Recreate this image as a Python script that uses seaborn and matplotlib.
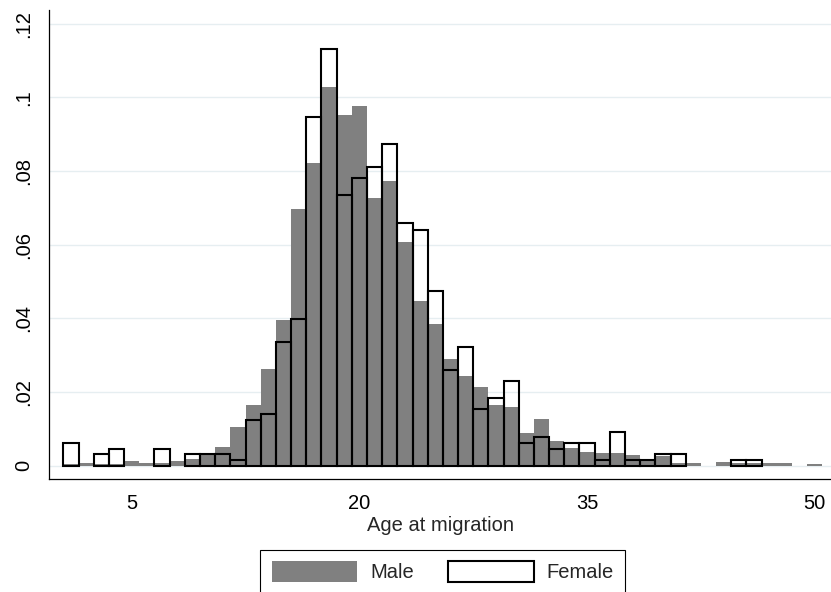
import matplotlib
matplotlib.use("Agg")
import matplotlib.pyplot as plt
from matplotlib.patches import Patch
import seaborn as sns

# density by single year of age at migration
male_ages = list(range(1, 51))
male_density = [0.0005, 0.0006, 0.0005, 0.0005, 0.0012, 0.0008, 0.0006, 0.0012, 0.0017, 0.0030,
                0.0052, 0.0106, 0.0165, 0.0262, 0.0395, 0.0696, 0.0822, 0.1027, 0.0952, 0.0976,
                0.0726, 0.0773, 0.0608, 0.0448, 0.0385, 0.0289, 0.0243, 0.0213, 0.0165, 0.0158,
                0.0090, 0.0127, 0.0068, 0.0047, 0.0038, 0.0035, 0.0035, 0.0029, 0.0014, 0.0026,
                0.0008, 0.0006, 0.0000, 0.0011, 0.0006, 0.0006, 0.0006, 0.0008, 0.0000, 0.0005]

female_ages = [1, 3, 4, 7, 9, 10, 11, 12, 13, 14, 15, 16, 17, 18, 19, 20, 21, 22, 23, 24,
               25, 26, 27, 28, 29, 30, 31, 32, 33, 34, 35, 36, 37, 38, 39, 40, 41, 45, 46]
female_density = [0.0062, 0.0032, 0.0046, 0.0046, 0.0032, 0.0032, 0.0031, 0.0015, 0.0124, 0.0139,
                  0.0337, 0.0398, 0.0947, 0.1131, 0.0735, 0.0780, 0.0811, 0.0872, 0.0658, 0.0641,
                  0.0474, 0.0260, 0.0321, 0.0154, 0.0183, 0.0231, 0.0061, 0.0077, 0.0045, 0.0061,
                  0.0061, 0.0015, 0.0091, 0.0015, 0.0015, 0.0032, 0.0032, 0.0015, 0.0015]

x_ticks = [5, 20, 35, 50]
y_ticks = [0, 0.02, 0.04, 0.06, 0.08, 0.10, 0.12]
y_tick_labels = ["0", ".02", ".04", ".06", ".08", ".1", ".12"]

sns.set_style("white")
plt.rcParams['font.family'] = ['Liberation Sans', 'DejaVu Sans']
plt.rcParams['font.size'] = 14.5

fig = plt.figure(figsize=(8.31, 5.92), dpi=100)
ax = fig.add_axes([0.0593, 0.1904, 0.9407, 0.7927])

ax.set_axisbelow(True)
ax.grid(axis='y', color='#e6eef1', linewidth=1.0)

male_grey = '#808080'
sns.barplot(x=male_ages, y=male_density, native_scale=True, orient='x', width=1,
            color=male_grey, saturation=1, linewidth=0, errorbar=None, ax=ax)
sns.barplot(x=female_ages, y=female_density, native_scale=True, orient='x', width=1,
            fill=False, color='black', linewidth=1.5, errorbar=None, ax=ax)

ax.set_xlim(-0.43, 51.07)
ax.set_ylim(-0.0037, 0.1237)
ax.set_xticks(x_ticks)
ax.set_xticklabels([str(t) for t in x_ticks])
ax.set_yticks(y_ticks)
ax.set_yticklabels(y_tick_labels, rotation=90, va='center')
ax.tick_params(axis='both', direction='out', length=6.5, width=0.8, color='black',
               labelcolor='black', labelsize=14.5, pad=5)
ax.tick_params(axis='x', pad=4)
ax.set_xlabel('Age at migration', fontsize=14.5, labelpad=2)
ax.set_ylabel('')

for side in ['top', 'right']:
    ax.spines[side].set_visible(False)
for side in ['left', 'bottom']:
    ax.spines[side].set_color('black')
    ax.spines[side].set_linewidth(0.9)

# legend below the plot, its lower edge runs off the bottom like the original
handles = [Patch(facecolor=male_grey, edgecolor='none', label='Male'),
           Patch(facecolor='white', edgecolor='black', linewidth=1.5, label='Female')]
leg = fig.legend(handles=handles, loc='upper center', bbox_to_anchor=(442.8 / 831, 1 - 550 / 592),
                 ncol=2, frameon=True, fancybox=False, edgecolor='black', framealpha=1,
                 borderaxespad=0, borderpad=0.55, handlelength=4.25, handleheight=1.2,
                 handletextpad=0.65, columnspacing=1.7, fontsize=14.5)
leg.get_frame().set_linewidth(0.8)

fig.savefig('out.png', dpi=100)
plt.close(fig)
